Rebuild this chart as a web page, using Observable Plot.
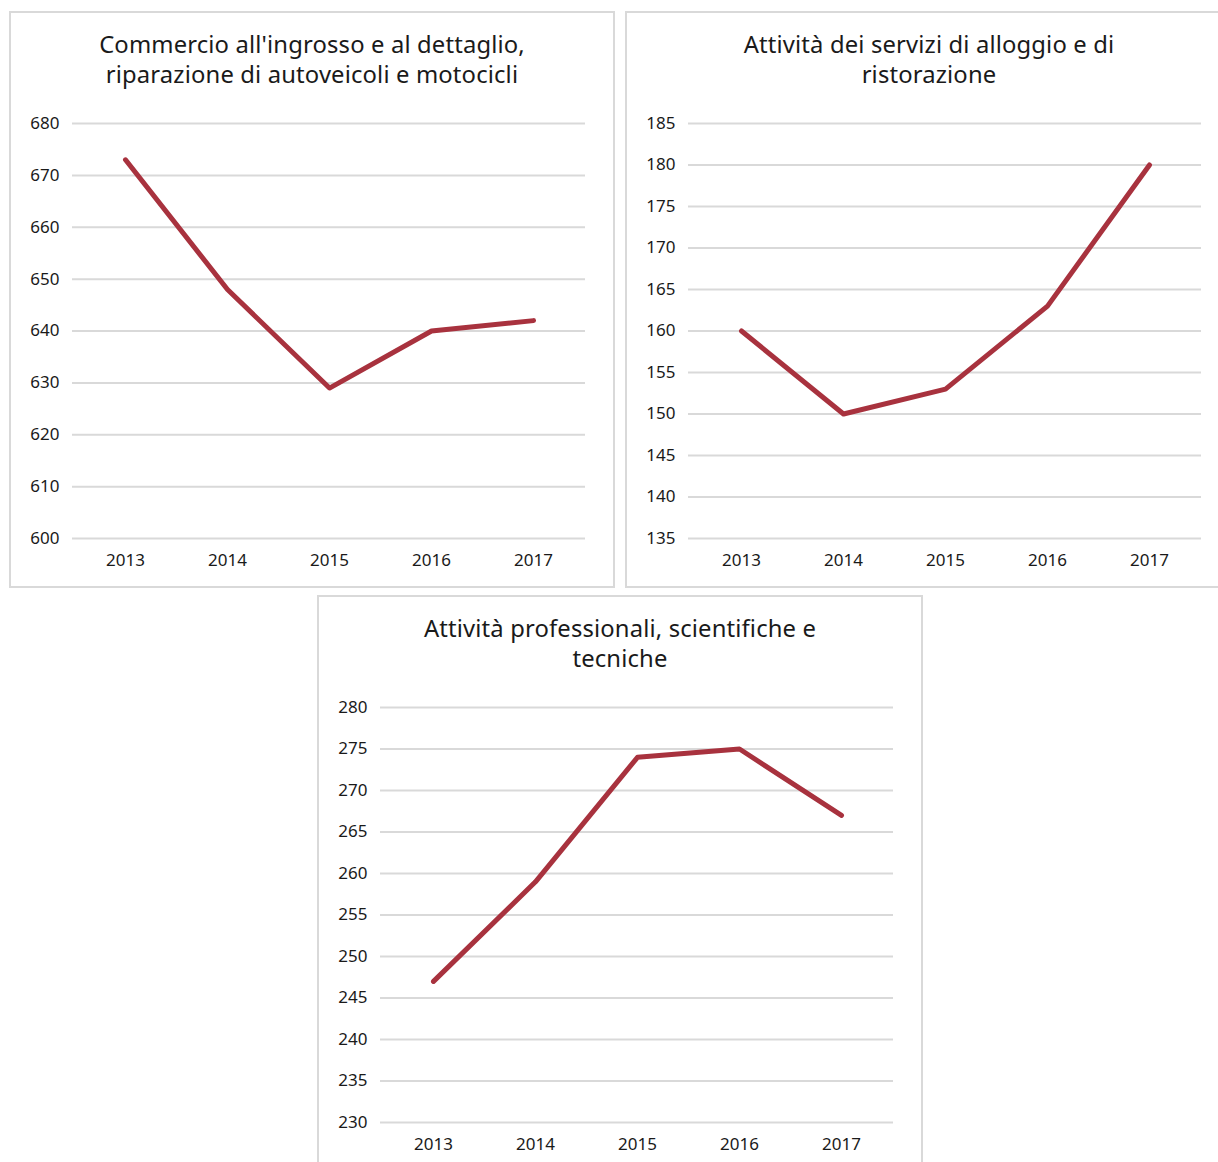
<!DOCTYPE html>
<html>
<head>
<meta charset="utf-8">
<script src="https://cdn.jsdelivr.net/npm/d3@7"></script>
<script src="https://cdn.jsdelivr.net/npm/@observablehq/plot@0.6"></script>
<style>
  html, body { margin: 0; padding: 0; background: #fff; width: 1218px; height: 1162px; overflow: hidden; position: relative; }
  .panel { position: absolute; box-sizing: border-box; border: 2px solid #d9d9d9; background: #fff; }
  .title { position: absolute; text-align: center; font-family: "Noto Sans", sans-serif; font-size: 23.8px; letter-spacing: 0.15px; line-height: 29.5px; color: #1a1a1a; }
  .chart { position: absolute; }
  .chart svg { overflow: visible; }
</style>
</head>
<body>
<script>
const years = ["2013", "2014", "2015", "2016", "2017"];

const titleCommercio = ["Commercio all'ingrosso e al dettaglio,", "riparazione di autoveicoli e motocicli"];
const valuesCommercio = [673, 648, 629, 640, 642];
const ticksCommercio = [600, 610, 620, 630, 640, 650, 660, 670, 680];

const titleAlloggio = ["Attività dei servizi di alloggio e di", "ristorazione"];
const valuesAlloggio = [160, 150, 153, 163, 180];
const ticksAlloggio = [135, 140, 145, 150, 155, 160, 165, 170, 175, 180, 185];

const titleProfessionali = ["Attività professionali, scientifiche e", "tecniche"];
const valuesProfessionali = [247, 259, 274, 275, 267];
const ticksProfessionali = [230, 235, 240, 245, 250, 255, 260, 265, 270, 275, 280];

const lineColor = "#a8323e";
const gridColor = "#d9d9d9";

function addPanel(cfg) {
  const p = document.createElement("div");
  p.className = "panel";
  Object.assign(p.style, { left: cfg.box[0] + "px", top: cfg.box[1] + "px", width: cfg.box[2] + "px", height: cfg.box[3] + "px" });
  document.body.appendChild(p);

  const t = document.createElement("div");
  t.className = "title";
  t.innerHTML = cfg.title.join("<br>");
  Object.assign(t.style, { left: cfg.box[0] + "px", width: cfg.box[2] + "px", top: cfg.titleTop + "px" });
  document.body.appendChild(t);

  const data = years.map((y, i) => ({ year: y, value: cfg.values[i] }));
  const ticks = cfg.ticks;
  const chart = Plot.plot({
    width: cfg.svg[2],
    height: cfg.svg[3],
    marginLeft: 72,
    marginRight: cfg.marginRight,
    marginTop: 23,
    marginBottom: 42,
    style: { fontFamily: "Noto Sans, sans-serif", fontSize: "17px", color: "#1a1a1a", background: "transparent" },
    x: { type: "point", domain: years, padding: 0.5, label: null, tickSize: 0, tickPadding: 15 },
    y: { domain: [ticks[0], ticks[ticks.length - 1]], ticks: ticks, label: null, tickSize: 0, tickPadding: 13 },
    marks: [
      Plot.ruleY(ticks, { stroke: gridColor, strokeWidth: 2 }),
      Plot.line(data, { x: "year", y: "value", stroke: lineColor, strokeWidth: 5, strokeLinejoin: "round", strokeLinecap: "round" })
    ]
  });
  const wrap = document.createElement("div");
  wrap.className = "chart";
  Object.assign(wrap.style, { left: cfg.svg[0] + "px", top: cfg.svg[1] + "px" });
  wrap.appendChild(chart);
  document.body.appendChild(wrap);
}

addPanel({ box: [9, 11, 606, 577], titleTop: 30, title: titleCommercio, values: valuesCommercio, ticks: ticksCommercio, svg: [0, 100, 612, 480], marginRight: 27 });
addPanel({ box: [625, 11, 608, 577], titleTop: 30, title: titleAlloggio, values: valuesAlloggio, ticks: ticksAlloggio, svg: [616, 100, 602, 480], marginRight: 17 });
addPanel({ box: [317, 595, 606, 600], titleTop: 614, title: titleProfessionali, values: valuesProfessionali, ticks: ticksProfessionali, svg: [308, 684, 612, 480], marginRight: 27 });
</script>
</body>
</html>
